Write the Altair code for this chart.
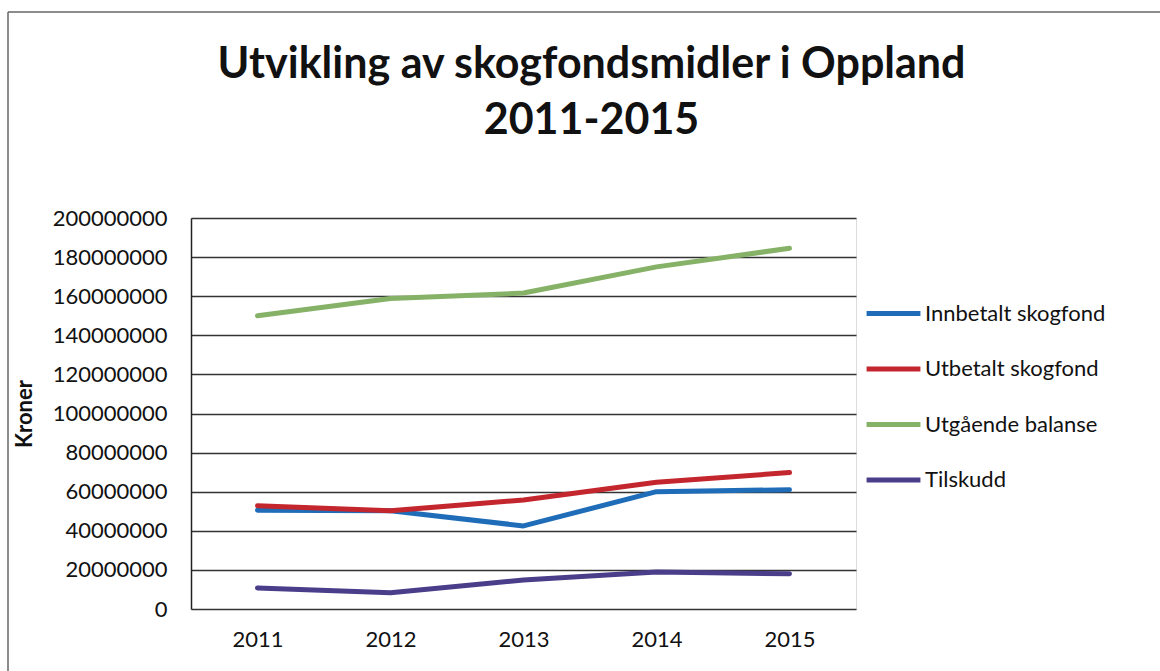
import altair as alt
import pandas as pd

years = ["2011", "2012", "2013", "2014", "2015"]
series_names = ["Innbetalt skogfond", "Utbetalt skogfond", "Utgående balanse", "Tilskudd"]
innbetalt = [50500000, 50200000, 42500000, 60000000, 61000000]
utbetalt = [52800000, 50200000, 55800000, 64800000, 69800000]
utgaende = [150000000, 158800000, 161600000, 175000000, 184500000]
tilskudd = [10800000, 8300000, 14800000, 18900000, 18000000]
colors = ["#1F6DB8", "#C4262E", "#86B268", "#4A3D8A"]
y_ticks = [0, 20000000, 40000000, 60000000, 80000000, 100000000,
           120000000, 140000000, 160000000, 180000000, 200000000]

rows = []
for name, vals in zip(series_names, [innbetalt, utbetalt, utgaende, tilskudd]):
    for yr, v in zip(years, vals):
        rows.append({"År": yr, "Serie": name, "Kroner": v})
df = pd.DataFrame(rows)

FONT = "Lato"

lines = alt.Chart(df).mark_line(strokeWidth=5, strokeCap="round", strokeJoin="round").encode(
    x=alt.X("År:O", sort=years,
            scale=alt.Scale(type="point", padding=0.5),
            axis=alt.Axis(title=None, labelAngle=0, labelFontSize=22, labelFont=FONT,
                          labelColor="#111", domain=False, ticks=False, labelPadding=20)),
    y=alt.Y("Kroner:Q",
            scale=alt.Scale(domain=[0, 200000000], nice=False),
            axis=alt.Axis(title="Kroner", values=y_ticks, format="d", labelFontSize=22,
                          labelFont=FONT, labelColor="#111", titleFont=FONT, titleFontSize=22,
                          titleFontWeight="bold", titleColor="#111", titlePadding=16,
                          domainColor="#222", domainWidth=1.5, ticks=False,
                          gridColor="#333", gridWidth=1.5, labelPadding=24)),
    color=alt.Color("Serie:N", sort=series_names,
                    scale=alt.Scale(domain=series_names, range=colors),
                    legend=alt.Legend(title=None, orient="none", legendX=673, legendY=66,
                                      symbolType="stroke", symbolSize=2900, symbolStrokeWidth=5,
                                      labelFontSize=22, labelFont=FONT, labelColor="#111",
                                      labelLimit=300, labelOffset=2, rowPadding=14.5,
                                      symbolOffset=0)),
    order=alt.Order("År:O"),
)

frame_top = alt.Chart().mark_rule(color="#666", strokeWidth=1.5, clip=False).encode(
    x=alt.value(-183), x2=alt.value(980), y=alt.value(-206))
frame_left = alt.Chart().mark_rule(color="#666", strokeWidth=1.5, clip=False).encode(
    x=alt.value(-183), y=alt.value(-206), y2=alt.value(470))

chart = alt.layer(frame_top, frame_left, lines).properties(
    width=665, height=391,
    autosize=alt.AutoSizeParams(type="none"),
    padding={"left": 191, "top": 218, "right": 304, "bottom": 62},
    title=alt.TitleParams(["Utvikling av skogfondsmidler i Oppland", "2011-2015"],
                          font=FONT, fontSize=43, fontWeight="bold", color="#111",
                          anchor="middle", frame="group", dx=68, offset=-132, lineHeight=56),
).configure_view(stroke=None).configure(background="white")

chart.save("out.html", embed_options={"renderer": "svg", "actions": False})
